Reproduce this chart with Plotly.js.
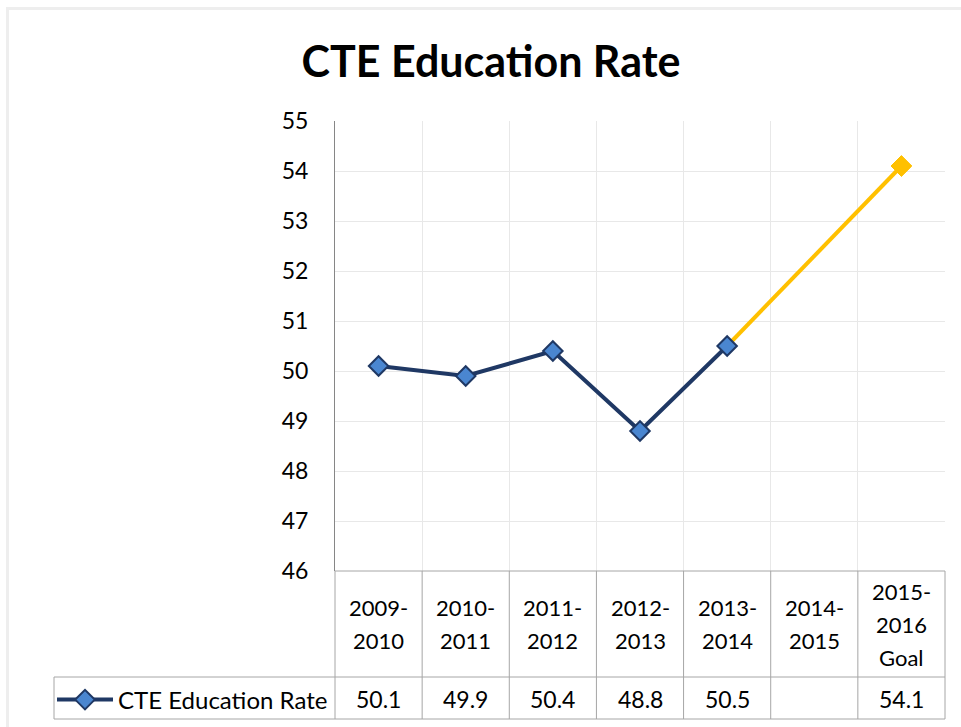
<!DOCTYPE html>
<html>
<head>
<meta charset="utf-8">
<script src="https://cdn.plot.ly/plotly-3.0.1.min.js"></script>
<style>html,body{margin:0;padding:0;background:#fff;}#chart{width:961px;height:727px;}</style>
</head>
<body>
<div id="chart"></div>
<script>
// ---- data ----
const categories = ['2009-2010', '2010-2011', '2011-2012', '2012-2013', '2013-2014', '2014-2015', '2015-2016 Goal'];
const tickLabels = ['2009-\n2010', '2010-\n2011', '2011-\n2012', '2012-\n2013', '2013-\n2014', '2014-\n2015', '2015-\n2016\nGoal'];
const rateValues = [50.1, 49.9, 50.4, 48.8, 50.5, null, 54.1];
const seriesName = 'CTE Education Rate';
const titleText = 'CTE Education Rate';
const yTicks = [46, 47, 48, 49, 50, 51, 52, 53, 54, 55];

// ---- layout helpers (pixel -> paper) ----
const L = 335, R = 945, T = 121, B = 571;
const px = x => (x - L) / (R - L);
const py = y => (B - y) / (B - T);
const FONT = 'Lato, "Open Sans", sans-serif';
const tableColor = '#a6a6a6';

// actual series (first five) and the goal segment
const lastActual = 4, goalIdx = 6;
const actualX = categories.slice(0, 5);
const actualY = rateValues.slice(0, 5);

const traces = [
  {
    x: [categories[lastActual], categories[goalIdx]],
    y: [rateValues[lastActual], rateValues[goalIdx]],
    mode: 'lines+markers',
    line: {color: '#ffc000', width: 4},
    marker: {symbol: 'diamond', size: [0, 16], color: '#ffc000', opacity: 1, line: {color: '#ffc000', width: 1}},
    showlegend: false,
    hoverinfo: 'skip'
  },
  {
    x: actualX,
    y: actualY,
    name: seriesName,
    mode: 'lines+markers',
    line: {color: '#1f3864', width: 4},
    marker: {symbol: 'diamond', size: 15, color: '#4a86d0', opacity: 1, line: {color: '#1f3864', width: 2}},
    showlegend: true
  }
];

const shapes = [];
const lineStyle = {color: tableColor, width: 1};
// vertical table lines at column boundaries
for (let i = 0; i <= categories.length; i++) {
  shapes.push({type: 'line', xref: 'paper', yref: 'paper',
    x0: i / categories.length, x1: i / categories.length, y0: py(571), y1: py(719), line: lineStyle});
}
// header top
shapes.push({type: 'line', xref: 'paper', yref: 'paper', x0: 0, x1: 1, y0: py(571), y1: py(571), line: lineStyle});
// data row top and bottom
shapes.push({type: 'line', xref: 'paper', yref: 'paper', x0: px(54), x1: 1, y0: py(677), y1: py(677), line: lineStyle});
shapes.push({type: 'line', xref: 'paper', yref: 'paper', x0: px(54), x1: 1, y0: py(719), y1: py(719), line: lineStyle});
shapes.push({type: 'line', xref: 'paper', yref: 'paper', x0: px(54), x1: px(54), y0: py(677), y1: py(719), line: lineStyle});
// faint outer frame (top and left)
shapes.push({type: 'line', xref: 'paper', yref: 'paper', x0: px(6), x1: px(961), y0: py(8.5), y1: py(8.5), line: {color: '#eeeeee', width: 3}});
shapes.push({type: 'line', xref: 'paper', yref: 'paper', x0: px(7.5), x1: px(7.5), y0: py(7), y1: py(727), line: {color: '#eeeeee', width: 3}});

const annotations = [];
const lineGap = 33, headerCenter = 624;
tickLabels.forEach((lab, i) => {
  const parts = lab.split('\n');
  parts.forEach((t, j) => {
    annotations.push({
      xref: 'x', yref: 'paper', x: categories[i], y: py(headerCenter + (j - (parts.length - 1) / 2) * lineGap),
      text: t, showarrow: false, xanchor: 'center', yanchor: 'middle',
      font: {family: FONT, size: 22, color: '#000'}
    });
  });
});
rateValues.forEach((v, i) => {
  if (v === null) return;
  annotations.push({
    xref: 'x', yref: 'paper', x: categories[i], y: py(699),
    text: v.toFixed(1), showarrow: false, xanchor: 'center', yanchor: 'middle',
    font: {family: FONT, size: 23, color: '#000'}
  });
});

const layout = {
  width: 961, height: 727,
  margin: {l: L, r: 961 - R, t: T, b: 727 - B, pad: 0, autoexpand: false},
  paper_bgcolor: '#ffffff', plot_bgcolor: '#ffffff',
  title: {
    text: '<b>' + titleText + '</b>',
    font: {family: FONT, size: 43, color: '#000'},
    x: 491 / 961, xanchor: 'center', xref: 'container',
    y: 1 - 62 / 727, yanchor: 'middle', yref: 'container'
  },
  xaxis: {
    type: 'category', categoryorder: 'array', categoryarray: categories,
    range: [-0.5, categories.length - 0.5],
    tickson: 'boundaries', showgrid: true, gridcolor: '#e8e8e8', gridwidth: 1,
    showticklabels: false, ticks: '', showline: false, zeroline: false, fixedrange: true
  },
  yaxis: {
    range: [46, 55], tickvals: yTicks, ticktext: yTicks.map(String),
    showgrid: true, gridcolor: '#e8e8e8', gridwidth: 1,
    showline: true, linecolor: '#868686', linewidth: 1,
    ticks: '', ticklabelstandoff: 21, zeroline: false, automargin: false,
    tickfont: {family: FONT, size: 23, color: '#000'}, fixedrange: true
  },
  showlegend: true,
  legend: {
    x: 52 / 961, y: 1 - 700 / 727, xanchor: 'left', yanchor: 'middle',
    xref: 'container', yref: 'container',
    bgcolor: 'rgba(0,0,0,0)', borderwidth: 0,
    font: {family: FONT, size: 24, color: '#000'},
    itemwidth: 56
  },
  shapes: shapes,
  annotations: annotations
};

Plotly.newPlot('chart', traces, layout, {displayModeBar: false, staticPlot: true});
</script>
</body>
</html>
